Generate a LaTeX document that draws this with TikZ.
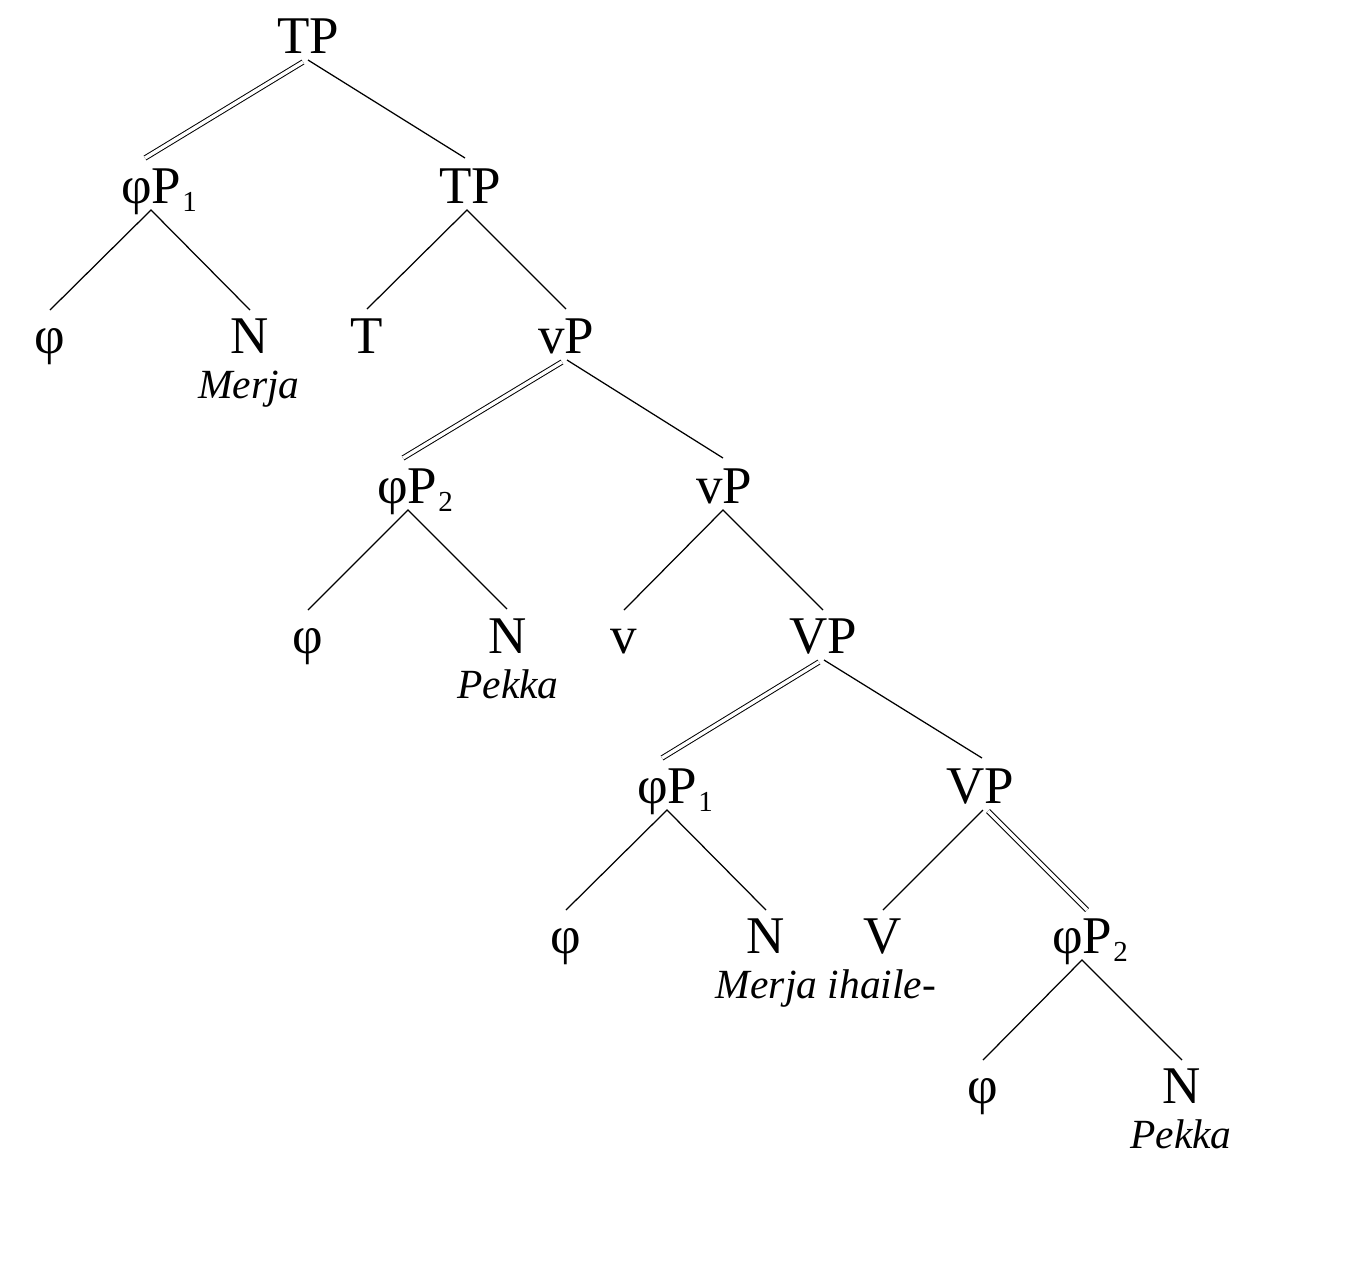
\documentclass[tikz,border=0pt]{standalone}
\usepackage{fontspec}
\setmainfont{Liberation Serif}
\newcommand{\catfont}{\fontsize{53}{56}\selectfont}
\newcommand{\glossfont}{\fontsize{41.5}{44}\selectfont\itshape}
\newcommand{\idx}[1]{\kern1pt\raisebox{-8pt}{\fontsize{29}{30}\selectfont #1}}
\begin{document}
\begin{tikzpicture}[x=1pt,y=-1pt,
  cat/.style={font=\catfont, inner sep=0pt, anchor=base},
  phicat/.style={font=\catfont, inner sep=0pt, anchor=base west},
  gloss/.style={font=\glossfont, inner sep=0pt, anchor=base},
  branch/.style={line width=1.25pt},
  dbranch/.style={line width=1pt, double, double distance=3.4pt}]
\useasboundingbox (0,0) rectangle (1352,1270);

% ---- labels ----
\node[cat] (tpA) at (308,53) {TP};
\node[phicat] (phpA) at (121,203) {φP\idx{1}};
\node[cat] (tpB) at (470,203) {TP};
\node[cat] (phiA) at (50,353) {φ};
\node[cat] (nA) at (250,353) {N};
\node[cat] (tT) at (367,353) {T};
\node[cat] (vpA) at (566,353) {vP};
\node[gloss] (merjaA) at (249,398) {Merja};
\node[phicat] (phpB) at (377,503) {φP\idx{2}};
\node[cat] (vpB) at (724,503) {vP};
\node[cat] (phiB) at (308,653) {φ};
\node[cat] (nB) at (508,653) {N};
\node[cat] (vv) at (624,653) {v};
\node[cat] (VPA) at (823,653) {VP};
\node[gloss] (pekkaA) at (508,698) {Pekka};
\node[phicat] (phpC) at (637,803) {φP\idx{1}};
\node[cat] (VPB) at (980,803) {VP};
\node[cat] (phiC) at (566,953) {φ};
\node[cat] (nC) at (766,953) {N};
\node[cat] (VV) at (883,953) {V};
\node[phicat] (phpD) at (1052,953) {φP\idx{2}};
\node[gloss] (merjaB) at (826,998) {Merja ihaile-};
\node[cat] (phiD) at (983,1103) {φ};
\node[cat] (nD) at (1182,1103) {N};
\node[gloss] (pekkaB) at (1181,1148) {Pekka};

% ---- branch ends: apex under each mother, foot above each daughter ----
\coordinate (tpA-a) at (308,60);
\coordinate (tpA-d) at (303,62);
\coordinate (phpA-f) at (145,158);
\coordinate (tpB-f) at (465,158);
\coordinate (phpA-a) at (151,210);
\coordinate (tpB-a) at (467,210);
\coordinate (phiA-f) at (50,310);
\coordinate (nA-f) at (250,310);
\coordinate (tT-f) at (367,309);
\coordinate (vpA-f) at (566,309);
\coordinate (vpA-a) at (567,360);
\coordinate (vpA-d) at (562,362);
\coordinate (phpB-f) at (403,458);
\coordinate (vpB-f) at (723,458);
\coordinate (phpB-a) at (408,510);
\coordinate (vpB-a) at (723,510);
\coordinate (phiB-f) at (308,610);
\coordinate (nB-f) at (507,609);
\coordinate (vv-f) at (624,610);
\coordinate (VPA-f) at (823,610);
\coordinate (VPA-a) at (824,660);
\coordinate (VPA-d) at (819,662);
\coordinate (phpC-f) at (662,758);
\coordinate (VPB-f) at (982,758);
\coordinate (phpC-a) at (667,810);
\coordinate (VPB-a) at (983,810);
\coordinate (VPB-d) at (988,811);
\coordinate (phiC-f) at (566,910);
\coordinate (nC-f) at (766,910);
\coordinate (VV-f) at (883,910);
\coordinate (phpD-f) at (1087,910);
\coordinate (phpD-a) at (1082,960);
\coordinate (phiD-f) at (983,1060);
\coordinate (nD-f) at (1182,1060);

% ---- branches ----
\draw[dbranch] (tpA-d) -- (phpA-f);
\draw[branch] (tpA-a) -- (tpB-f);
\draw[branch] (phiA-f) -- (phpA-a) -- (nA-f);
\draw[branch] (tT-f) -- (tpB-a) -- (vpA-f);
\draw[dbranch] (vpA-d) -- (phpB-f);
\draw[branch] (vpA-a) -- (vpB-f);
\draw[branch] (phiB-f) -- (phpB-a) -- (nB-f);
\draw[branch] (vv-f) -- (vpB-a) -- (VPA-f);
\draw[dbranch] (VPA-d) -- (phpC-f);
\draw[branch] (VPA-a) -- (VPB-f);
\draw[branch] (phiC-f) -- (phpC-a) -- (nC-f);
\draw[branch] (VV-f) -- (VPB-a);
\draw[dbranch] (VPB-d) -- (phpD-f);
\draw[branch] (phiD-f) -- (phpD-a) -- (nD-f);
\end{tikzpicture}
\end{document}
